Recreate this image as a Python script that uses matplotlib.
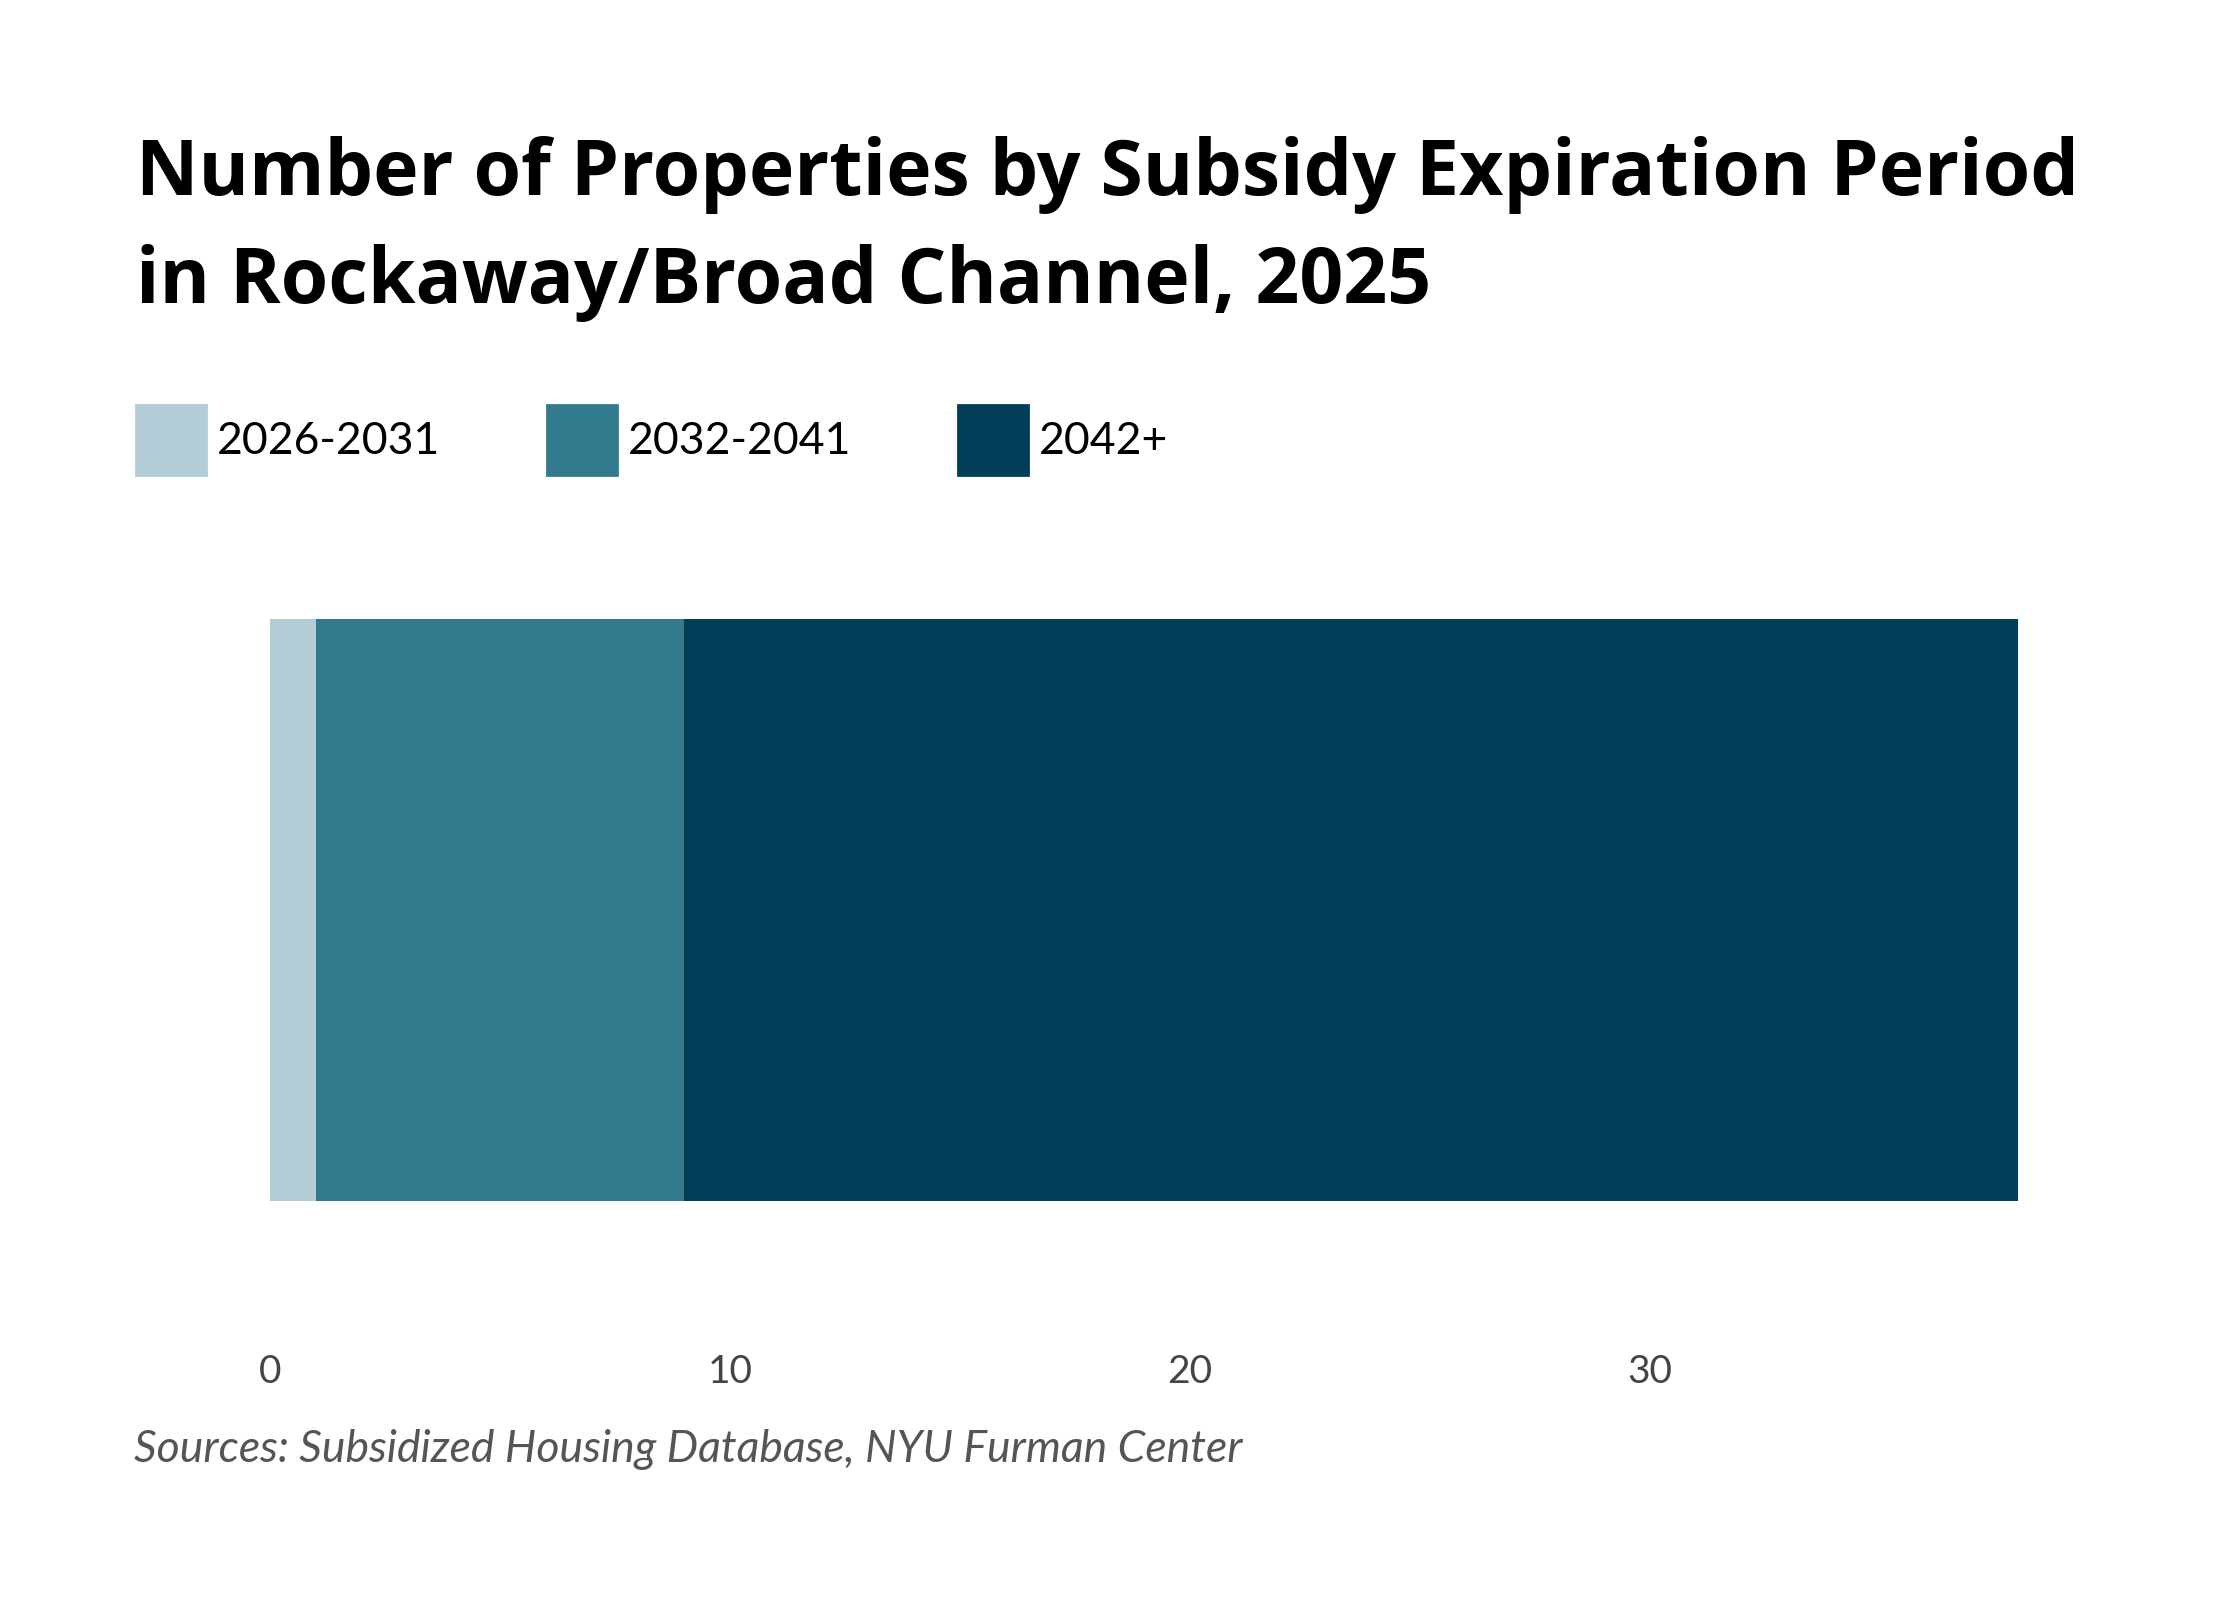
import matplotlib.pyplot as plt
from matplotlib.patches import Patch

periods = ["2026-2031", "2032-2041", "2042+"]
counts = [1, 8, 29]
colors = ["#b3cdd6", "#347a8f", "#023e58"]
xticks = [0, 10, 20, 30]

W, H = 2240, 1600
plt.rcParams["font.family"] = ["Lato", "DejaVu Sans"]

fig = plt.figure(figsize=(W / 200, H / 200), dpi=200)
ax = fig.add_axes([270 / W, 1 - 1201 / H, 1748 / W, 582 / H])

left = 0
for name, n, c in zip(periods, counts, colors):
    ax.barh(0, n, left=left, height=1.0, color=c, label=name)
    left += n

ax.set_xlim(0, sum(counts))
ax.set_ylim(-0.5, 0.5)
ax.set_yticks([])
ax.set_xticks(xticks)
ax.tick_params(axis="x", length=0, pad=55, labelsize=14, labelcolor="#444444")
for s in ax.spines.values():
    s.set_visible(False)

# title, two lines
title_font = dict(fontsize=27.7, fontweight="bold", family=["Open Sans", "DejaVu Sans"],
                  ha="left", va="baseline")
fig.text(136 / W, 1 - 195 / H, "Number of Properties by Subsidy Expiration Period", **title_font)
fig.text(136 / W, 1 - 303 / H, "in Rockaway/Broad Channel, 2025", **title_font)

handles = [Patch(color=c, label=p) for p, c in zip(periods, colors)]
fig.legend(handles=handles, loc="center left", bbox_to_anchor=(136 / W, 1 - 440 / H),
           ncol=3, frameon=False, fontsize=16, handlelength=1.57, handleheight=2.05,
           handletextpad=0.25, columnspacing=2.4, borderpad=0, borderaxespad=0)

fig.text(134 / W, 1 - 1462 / H, "Sources: Subsidized Housing Database, NYU Furman Center",
         fontsize=16, style="italic", color="#555555", ha="left", va="baseline")

fig.savefig("out.png", dpi=200)
